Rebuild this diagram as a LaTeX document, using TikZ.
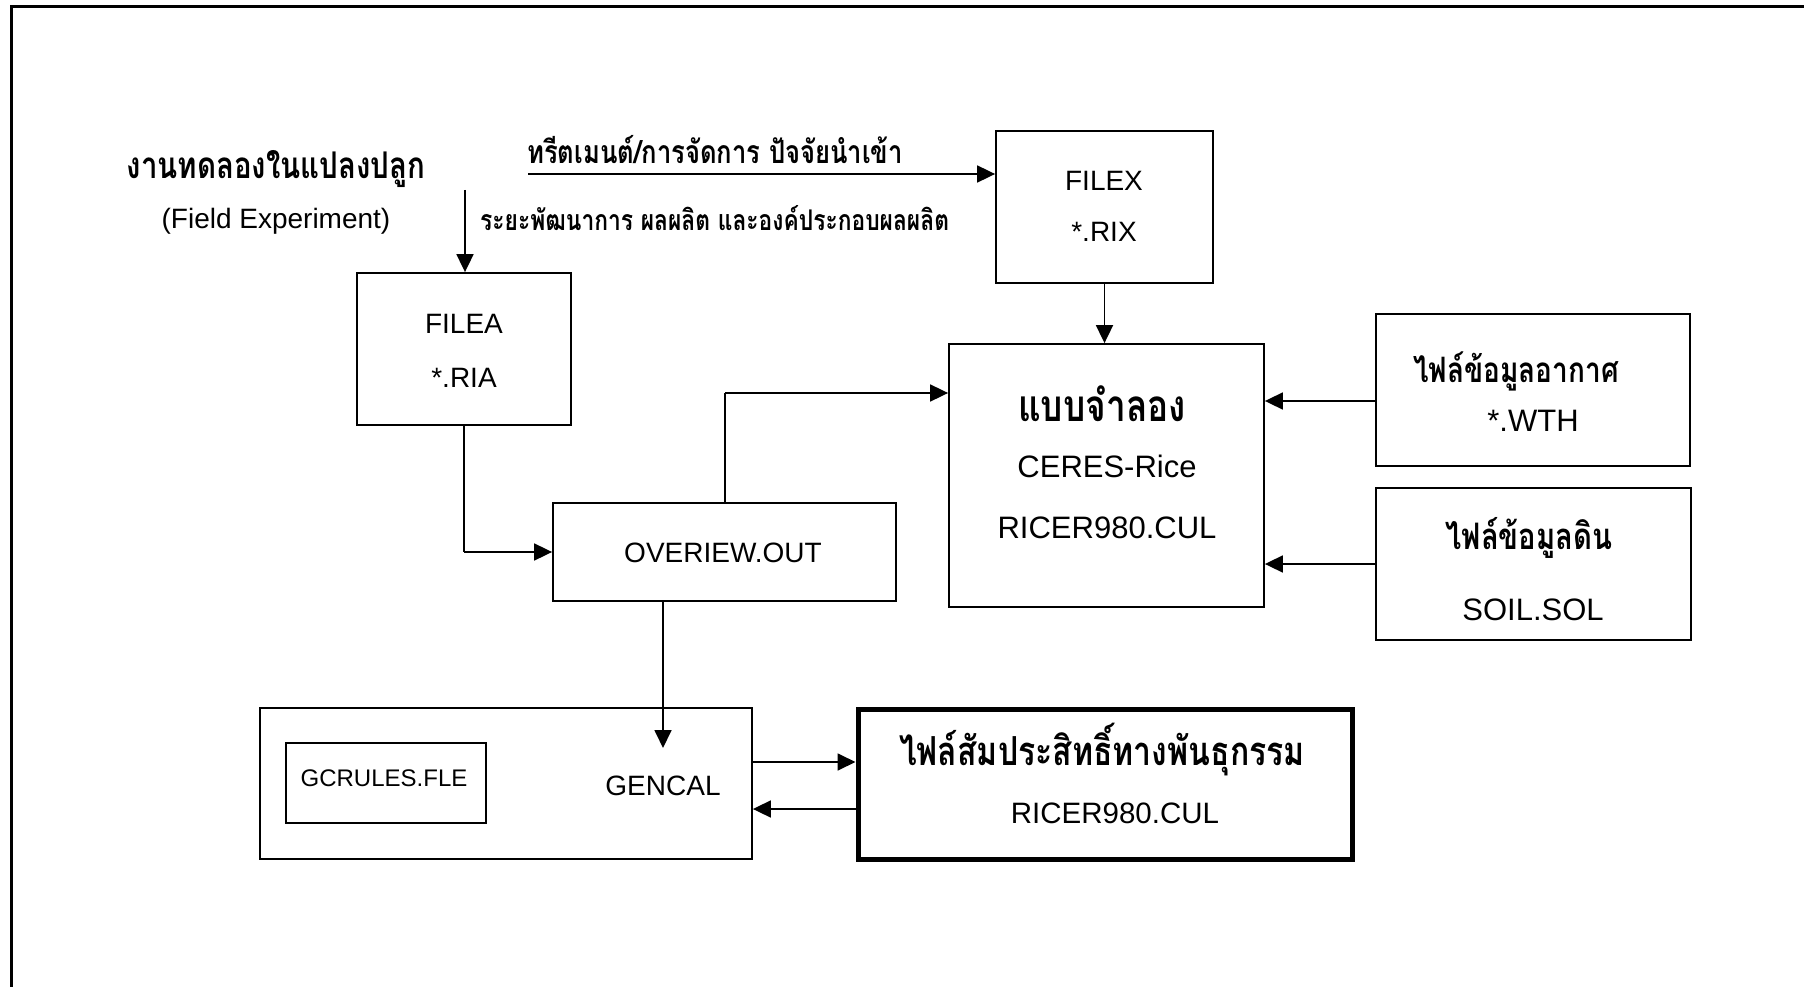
\documentclass[tikz,border=0pt]{standalone}
\usepackage{fontspec}
\setmainfont{Liberation Sans}
\newfontfamily\thai[Script=Thai,FakeStretch=0.8]{Loma}
\usetikzlibrary{arrows.meta}
\begin{document}
\begin{tikzpicture}[x=1pt,y=-1pt,
  box/.style={draw,line width=1.8pt,inner sep=0pt,minimum width=#1},
  arr/.style={line width=1.8pt,-{Triangle[length=18pt,width=17pt]}},
  ln/.style={line width=1.8pt},
  lat/.style={inner sep=0pt,font=\fontsize{28}{30}\selectfont},
  latb/.style={inner sep=0pt,font=\fontsize{31}{33}\selectfont},
  th/.style={inner sep=0pt,font=\thai\bfseries\fontsize{#1}{#1}\selectfont},
]
\useasboundingbox (0,0) rectangle (1804,987);
% frame (cut off at right and bottom)
\draw[line width=3pt] (11,1000) -- (11,7) -- (1810,7);

% boxes
\node[box=214pt,minimum height=152pt] (filea) at (464,349) {};
\node[box=217pt,minimum height=152pt] (filex) at (1104.5,207) {};
\node[box=343pt,minimum height=98pt] (overview) at (724.5,552) {};
\node[box=315pt,minimum height=263pt] (model) at (1106.5,475.5) {};
\node[box=314pt,minimum height=152pt] (weather) at (1533,390) {};
\node[box=315pt,minimum height=152pt] (soil) at (1533.5,564) {};
\node[box=492pt,minimum height=151pt] (gencal) at (506,783.5) {};
\node[box=200pt,minimum height=80pt] (gcrules) at (386,783) {};
\node[draw,line width=5pt,inner sep=0pt,minimum width=494pt,minimum height=150pt] (genetic) at (1105,784) {};

% texts
\node[th=36.8] (title) at (276,169) {งานทดลองในแปลงปลูก};
\node[lat] (fieldexp) at (276,221) {(Field Experiment)};
\node[th=32,anchor=south] (treat) at (715,164) {ทรีตเมนต์/การจัดการ ปัจจัยนำเข้า};
\node[th=28.5,anchor=west] (stage) at (480,218) {ระยะพัฒนาการ ผลผลิต และองค์ประกอบผลผลิต};
\node[lat] (fileatxt) at (464,324) {FILEA};
\node[lat] (riatxt) at (464,378) {*.RIA};
\node[lat] (filextxt) at (1104,181) {FILEX};
\node[lat] (rixtxt) at (1104,232) {*.RIX};
\node[lat] (ovtxt) at (723,553) {OVERIEW.OUT};
\node[th=44] (modeltxt) at (1102,404) {แบบจำลอง};
\node[latb] (ceres) at (1107,466) {CERES-Rice};
\node[latb] (ricer1) at (1107,528) {RICER980.CUL};
\node[th=35] (weathertxt) at (1516,371) {ไฟล์ข้อมูลอากาศ};
\node[latb] (wth) at (1533,421) {*.WTH};
\node[th=36.5] (soiltxt) at (1529,538) {ไฟล์ข้อมูลดิน};
\node[latb] (sol) at (1533,610) {SOIL.SOL};
\node[lat] (gencaltxt) at (663,786) {GENCAL};
\node[inner sep=0pt,font=\fontsize{24}{26}\selectfont] (gcrtxt) at (384,778) {GCRULES.FLE};
\node[th=40] (genetictxt) at (1102,750) {ไฟล์สัมประสิทธิ์ทางพันธุกรรม};
\node[inner sep=0pt,font=\fontsize{29.5}{31}\selectfont] (ricer2) at (1115,813) {RICER980.CUL};

% connectors
\coordinate (fieldstart) at (465,190);
\draw[arr] (fieldstart) -- (fieldstart |- filea.north);
\coordinate (treatstart) at (528,174);
\draw[arr] (treatstart) -- (treatstart -| filex.west);
\draw[arr] (filex.south) -- (filex.south |- model.north);
\draw[ln] (filea.south) -- (filea.south |- overview.west);
\draw[arr] (filea.south |- overview.west) -- (overview.west);
\coordinate (ovup) at (725,393);
\draw[ln] (ovup |- overview.north) -- (ovup);
\draw[arr] (ovup) -- (ovup -| model.west);
\coordinate (wy) at (1300,401);
\draw[arr] (wy -| weather.west) -- (wy -| model.east);
\draw[arr] (soil.west) -- (soil.west -| model.east);
\coordinate (gx) at (663,748);
\draw[arr] (gx |- overview.south) -- (gx);
\coordinate (a1) at (800,762);
\coordinate (a2) at (800,809);
\draw[arr] (a1 -| gencal.east) -- (a1 -| genetic.west);
\draw[arr] (a2 -| genetic.west) -- (a2 -| gencal.east);
\end{tikzpicture}
\end{document}
